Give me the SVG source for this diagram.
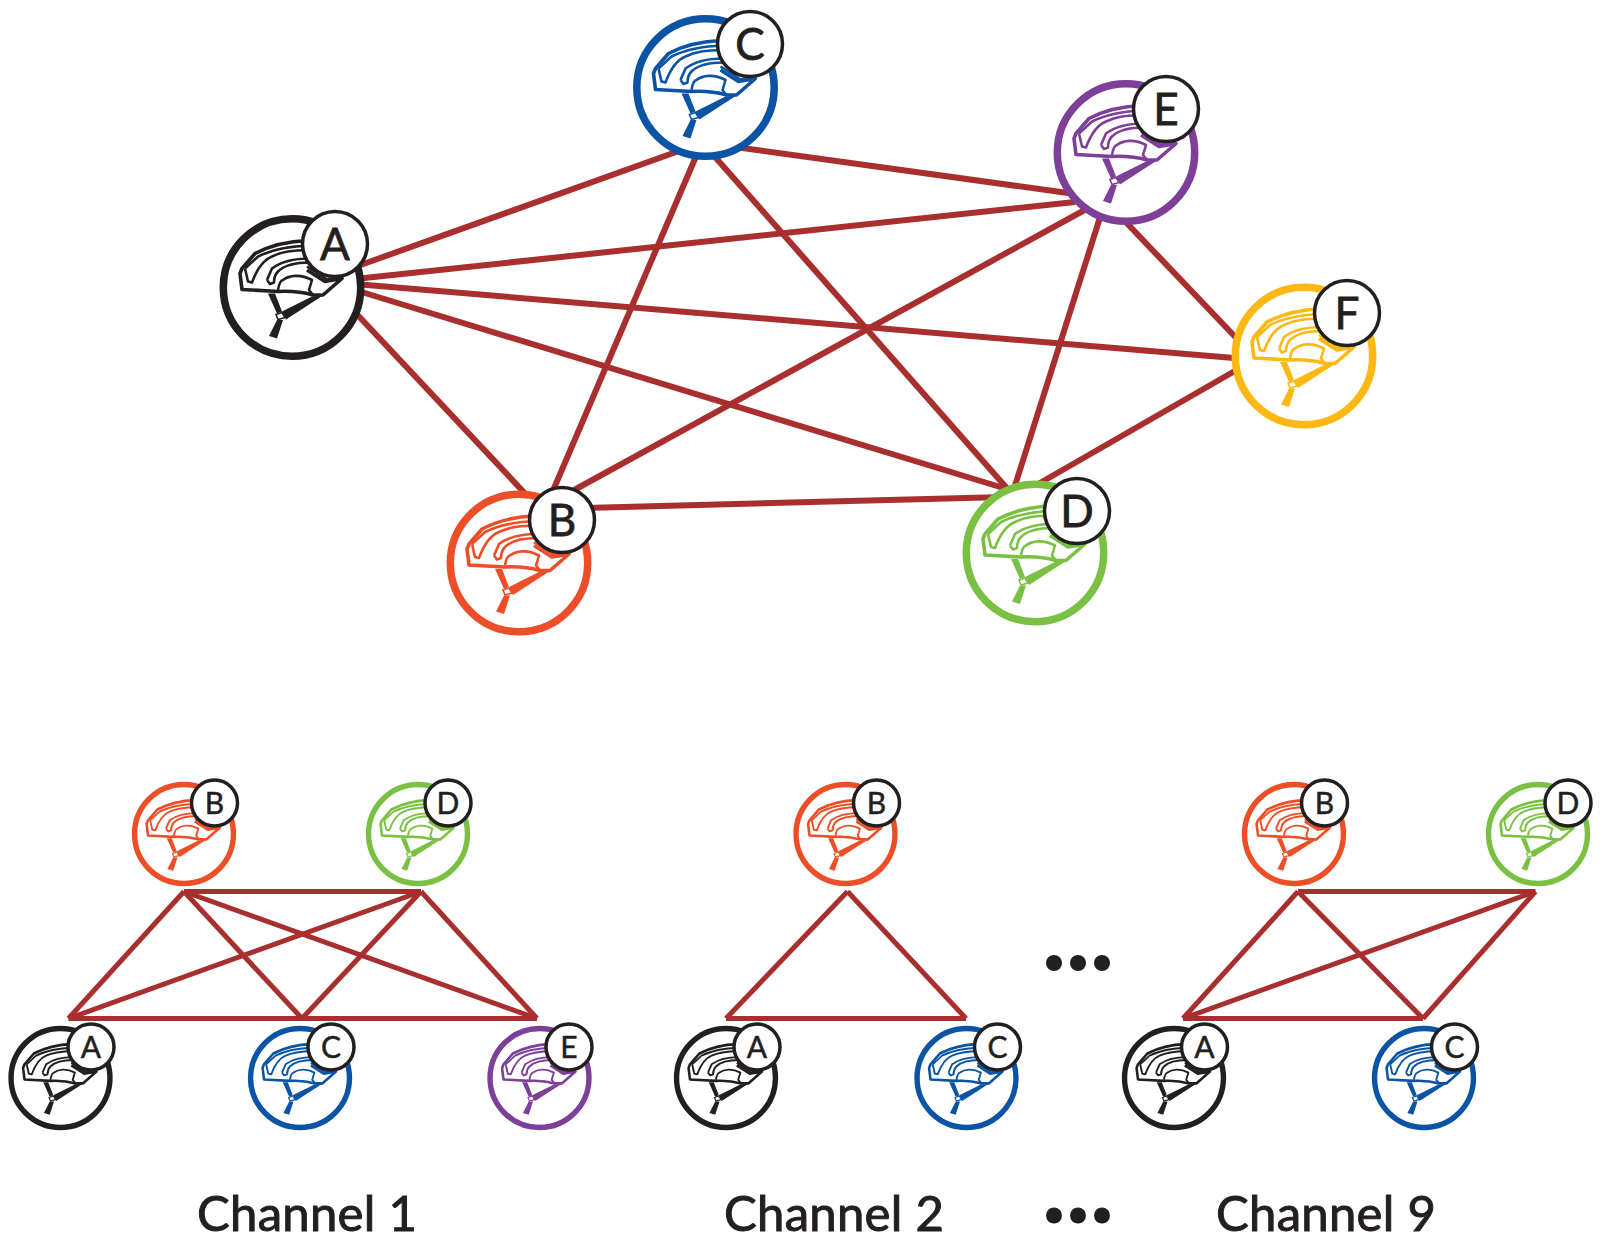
<svg xmlns="http://www.w3.org/2000/svg" width="1605" height="1235" viewBox="0 0 1605 1235">
<style>
.ring{fill:#fff;stroke:currentColor;stroke-width:7.5}
.h{fill:none;stroke:currentColor;stroke-linejoin:round}
.f{fill:currentColor}
.lab{fill:#fff;stroke:#231f20;stroke-width:3.5}
.t{font-family:"Lato","Liberation Sans",sans-serif;fill:#231f20;stroke:#231f20;text-anchor:middle}
.big{font-size:44px;stroke-width:.8}
.sm{font-size:30px;stroke-width:.5}
.cap{font-size:49px;stroke-width:1;letter-spacing:.3px;text-anchor:start}
.lines line{stroke:#a92e2e;stroke-width:6}
.lines2 line{stroke:#a92e2e;stroke-width:5}
.k{color:#231f20}.o{color:#ee4e27}.b{color:#0b54a5}.p{color:#7d3f98}.y{color:#fdb813}.g{color:#7ac143}
</style>
<defs>
<g id="hn">
<circle class="ring" r="68.7"/>
<path class="h" stroke-width="3.6" d="M16-47Q-14-46-37-34L-50-19-52-14-50 2-14 4Q5 3 21 7.5L31 7.5 50-9 33-6 15-17.5"/>
<path class="h" stroke-width="2.6" d="M-47-19-44-6-40-5C-36-16-30-27-20-31C-10-36 0-37 18-37.5M18-42Q-14-41-34-31L-47-19"/>
<path class="h" stroke-width="2.6" d="M-25-7.5-22-3.5-18-5C-18-10-16-14-14-16C-10-20-2-25 18-25M18-29C-2-29-12-25-20-19L-25-7.5"/>
<path class="h" stroke-width="2.6" d="M-14 2.5C-13-4-11-7-9-7.5C-3-12 8-14 20-7.5L17 2.5 21 7.5"/>
<path class="h" stroke-width="2.6" d="M15-21 35-8 50-10"/>
<path class="f" d="M-24 6-17 6-10 24-15 26ZM20 9 31 8-6 32-10 24ZM-15 32.5-9 32.5-15 51-23 48.5Z"/>
<path fill="#fff" stroke="currentColor" stroke-width="1.6" d="M-16 27-10 25-7 30-14 32Z"/>
</g>
</defs>
<g id="connectors">
<g class="lines">
<line x1="355" y1="267" x2="690" y2="147"/>
<line x1="355" y1="279" x2="1075" y2="202"/>
<line x1="355" y1="284" x2="1240" y2="358.6"/>
<line x1="355" y1="290" x2="1010" y2="490"/>
<line x1="352" y1="309" x2="533" y2="502"/>
<line x1="735" y1="147" x2="1075" y2="194"/>
<line x1="700" y1="147" x2="549" y2="500"/>
<line x1="708" y1="149" x2="1012" y2="494"/>
<line x1="1092" y1="206" x2="565" y2="495"/>
<line x1="1103" y1="208" x2="1012" y2="495"/>
<line x1="1120" y1="216" x2="1242" y2="344"/>
<line x1="585" y1="508" x2="1005" y2="497"/>
<line x1="1240" y1="368" x2="1033" y2="487"/>
</g>
<g class="lines2">
<line x1="184" y1="891.5" x2="421" y2="891.5"/>
<line x1="68.5" y1="1018.5" x2="537" y2="1018.5"/>
<line x1="184" y1="891.5" x2="68.5" y2="1018.5"/>
<line x1="184" y1="891.5" x2="302" y2="1018.5"/>
<line x1="184" y1="891.5" x2="537" y2="1018.5"/>
<line x1="421" y1="891.5" x2="68.5" y2="1018.5"/>
<line x1="421" y1="891.5" x2="302" y2="1018.5"/>
<line x1="421" y1="891.5" x2="537" y2="1018.5"/>
<line x1="847.5" y1="891.5" x2="726" y2="1018.5"/>
<line x1="847.5" y1="891.5" x2="966" y2="1018.5"/>
<line x1="726" y1="1018.5" x2="966" y2="1018.5"/>
<line x1="1298" y1="891.5" x2="1535.5" y2="891.5"/>
<line x1="1183" y1="1018.5" x2="1423" y2="1018.5"/>
<line x1="1298" y1="891.5" x2="1183" y2="1018.5"/>
<line x1="1298" y1="891.5" x2="1423" y2="1018.5"/>
<line x1="1535.5" y1="891.5" x2="1183" y2="1018.5"/>
<line x1="1535.5" y1="891.5" x2="1423" y2="1018.5"/>
</g>
</g>
<g id="big-a" class="k"><use href="#hn" transform="translate(292 287.5)"/><circle class="lab" cx="335" cy="244" r="32.5"/><text class="t big" x="335" y="259.5">A</text></g>
<g id="big-b" class="o"><use href="#hn" transform="translate(519 563)"/><circle class="lab" cx="562" cy="520" r="32.5"/><text class="t big" x="562" y="535.5">B</text></g>
<g id="big-c" class="b"><use href="#hn" transform="translate(705.5 87.5)"/><circle class="lab" cx="750" cy="44" r="32.5"/><text class="t big" x="750" y="59.5">C</text></g>
<g id="big-d" class="g"><use href="#hn" transform="translate(1035 553)"/><circle class="lab" cx="1077" cy="511" r="32.5"/><text class="t big" x="1077" y="526.5">D</text></g>
<g id="big-e" class="p"><use href="#hn" transform="translate(1126 152.5)"/><circle class="lab" cx="1166" cy="109" r="32.5"/><text class="t big" x="1166" y="124.5">E</text></g>
<g id="big-f" class="y"><use href="#hn" transform="translate(1304 356)"/><circle class="lab" cx="1347" cy="313" r="32.5"/><text class="t big" x="1347" y="328.5">F</text></g>

<g id="ch1-a" class="k"><use href="#hn" transform="translate(60.5 1078) scale(.72)"/><circle class="lab" cx="91" cy="1047" r="23"/><text class="t sm" x="91" y="1058">A</text></g>
<g id="ch1-b" class="o"><use href="#hn" transform="translate(184 834) scale(.72)"/><circle class="lab" cx="214.5" cy="803" r="23"/><text class="t sm" x="214.5" y="814">B</text></g>
<g id="ch1-c" class="b"><use href="#hn" transform="translate(300 1078) scale(.72)"/><circle class="lab" cx="331" cy="1047" r="23"/><text class="t sm" x="331" y="1058">C</text></g>
<g id="ch1-d" class="g"><use href="#hn" transform="translate(418 834) scale(.72)"/><circle class="lab" cx="448" cy="803" r="23"/><text class="t sm" x="448" y="814">D</text></g>
<g id="ch1-e" class="p"><use href="#hn" transform="translate(539.5 1078) scale(.72)"/><circle class="lab" cx="569" cy="1047" r="23"/><text class="t sm" x="569" y="1058">E</text></g>

<g id="ch2-a" class="k"><use href="#hn" transform="translate(726 1078) scale(.72)"/><circle class="lab" cx="757" cy="1047" r="23"/><text class="t sm" x="757" y="1058">A</text></g>
<g id="ch2-b" class="o"><use href="#hn" transform="translate(845.5 834) scale(.72)"/><circle class="lab" cx="876.5" cy="803" r="23"/><text class="t sm" x="876.5" y="814">B</text></g>
<g id="ch2-c" class="b"><use href="#hn" transform="translate(966.5 1078) scale(.72)"/><circle class="lab" cx="997.5" cy="1047" r="23"/><text class="t sm" x="997.5" y="1058">C</text></g>

<g id="ch9-a" class="k"><use href="#hn" transform="translate(1174 1078) scale(.72)"/><circle class="lab" cx="1204.5" cy="1047" r="23"/><text class="t sm" x="1204.5" y="1058">A</text></g>
<g id="ch9-b" class="o"><use href="#hn" transform="translate(1294 834) scale(.72)"/><circle class="lab" cx="1324.5" cy="803" r="23"/><text class="t sm" x="1324.5" y="814">B</text></g>
<g id="ch9-c" class="b"><use href="#hn" transform="translate(1424 1078) scale(.72)"/><circle class="lab" cx="1454.5" cy="1047" r="23"/><text class="t sm" x="1454.5" y="1058">C</text></g>
<g id="ch9-d" class="g"><use href="#hn" transform="translate(1538 834) scale(.72)"/><circle class="lab" cx="1568" cy="803" r="23"/><text class="t sm" x="1568" y="814">D</text></g>

<g id="dots" fill="#231f20">
<circle cx="1054" cy="963" r="8"/><circle cx="1078" cy="963" r="8"/><circle cx="1102" cy="963" r="8"/>
<circle cx="1054" cy="1215.500" r="8"/><circle cx="1078" cy="1215.500" r="8"/><circle cx="1102" cy="1215.500" r="8"/>
</g>
<g id="captions">
<text class="t cap" x="197" y="1231">Channel 1</text>
<text class="t cap" x="724" y="1231">Channel 2</text>
<text class="t cap" x="1216" y="1231">Channel 9</text>
</g>
</svg>
